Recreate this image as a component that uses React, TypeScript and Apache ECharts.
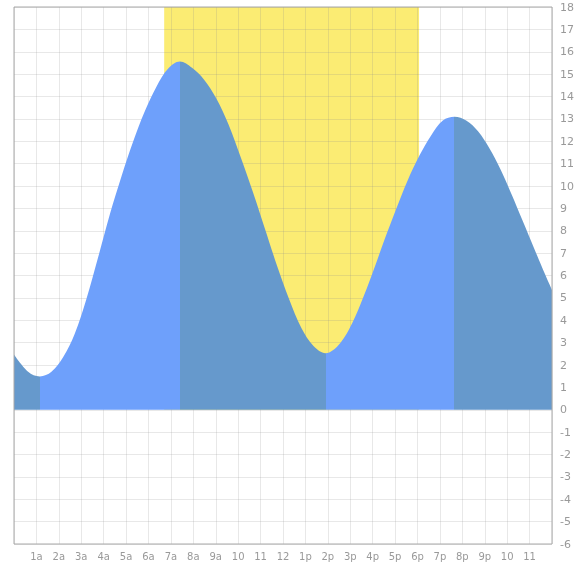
import React, { useEffect, useRef } from "react";
import * as echarts from "echarts";

// Tide heights (hour of day, height)
const hours = [
  0, 0.63, 1.15,
  1.67, 2.19, 2.71, 3.23, 3.75, 4.28, 4.8, 5.32, 5.84, 6.36, 6.88, 7.4,
  7.94, 8.48, 9.02, 9.57, 10.11, 10.65, 11.19, 11.73, 12.27, 12.82, 13.36, 13.9,
  14.42, 14.95, 15.47, 15.99, 16.51, 17.04, 17.56, 18.08, 18.6, 19.13, 19.65,
  20.17, 20.7, 21.2, 21.7, 22.2, 22.7, 23.2, 23.7, 24,
];
const heights = [
  2.47, 1.7, 1.49,
  1.7, 2.35, 3.4, 4.95, 6.8, 8.75, 10.45, 12.0, 13.35, 14.45, 15.25, 15.56,
  15.28, 14.75, 13.92, 12.75, 11.3, 9.75, 8.1, 6.45, 4.95, 3.65, 2.85, 2.53,
  2.83, 3.6, 4.75, 6.1, 7.55, 8.95, 10.25, 11.35, 12.25, 12.93, 13.1,
  12.93, 12.45, 11.7, 10.75, 9.62, 8.42, 7.22, 6.03, 5.35,
];

// Times of low / high tide (segment boundaries for colouring)
const tideTurns = [1.15, 7.4, 13.9, 19.65];
// Daylight (sunrise, sunset) in hours
const daylight = [6.7, 18.07];

// X tick labels for hours 1..23
const hourLabels = ["1a", "2a", "3a", "4a", "5a", "6a", "7a", "8a", "9a", "10", "11", "12", "1p", "2p", "3p", "4p", "5p", "6p", "7p", "8p", "9p", "10", "11"];

const FALLING = "#6699cc";
const RISING = "#6ea0fb";
const SUN = "#fbec73";

export default function App() {
  const ref = useRef<HTMLDivElement>(null);
  useEffect(() => {
    if (!ref.current) return;
    const chart = echarts.init(ref.current, undefined, { renderer: "svg" });
    const bounds = [0, ...tideTurns, 24];
    const pieces = [];
    for (let i = 0; i < bounds.length - 1; i++) {
      pieces.push({
        gte: bounds[i],
        lt: i === bounds.length - 2 ? 24.0001 : bounds[i + 1],
        color: i % 2 === 0 ? FALLING : RISING,
      });
    }
    chart.setOption({
      animation: false,
      grid: {
        left: 14,
        right: 33,
        top: 7,
        bottom: 20,
        show: true,
        borderColor: "#a8a8a8",
        borderWidth: 1,
        backgroundColor: "transparent",
        z: 3,
      },
      visualMap: {
        type: "piecewise",
        show: false,
        dimension: 0,
        seriesIndex: 1,
        pieces,
      },
      xAxis: {
        type: "value",
        min: 0,
        max: 24,
        interval: 1,
        z: 1,
        axisLine: { show: false },
        axisTick: { show: false },
        splitLine: { show: true, lineStyle: { color: "rgba(140,140,140,0.2)", width: 1 } },
        axisLabel: {
          color: "#999999",
          fontSize: 10,
          fontFamily: "DejaVu Sans",
          margin: 7,
          showMinLabel: false,
          showMaxLabel: false,
          formatter: (v: number) => (v >= 1 && v <= 23 ? hourLabels[Math.round(v) - 1] : ""),
        },
      },
      yAxis: {
        type: "value",
        position: "right",
        min: -6,
        max: 18,
        interval: 1,
        z: 1,
        axisLine: { show: false },
        axisTick: { show: false },
        splitLine: { show: true, lineStyle: { color: "rgba(140,140,140,0.2)", width: 1 } },
        axisLabel: {
          color: "#999999",
          fontSize: 11,
          fontFamily: "DejaVu Sans",
          margin: 8,
        },
      },
      series: [
        {
          type: "custom",
          z: 0,
          silent: true,
          data: [[daylight[0], daylight[1]]],
          renderItem: (params: any, api: any) => {
            const p0 = api.coord([api.value(0), 18]);
            const p1 = api.coord([api.value(1), 0]);
            return {
              type: "rect",
              shape: { x: p0[0], y: p0[1], width: p1[0] - p0[0], height: p1[1] - p0[1] },
              style: { fill: SUN },
            };
          },
          encode: { x: [0, 1] },
        },
        {
          type: "line",
          z: 2,
          smooth: 0.35,
          showSymbol: false,
          silent: true,
          data: hours.map((h, i) => [h, heights[i]]),
          lineStyle: { width: 0 },
          areaStyle: { opacity: 1 },
        },
      ],
    });
    return () => chart.dispose();
  }, []);
  return <div ref={ref} style={{ position: "fixed", left: 0, top: 0, width: 585, height: 564 }} />;
}
